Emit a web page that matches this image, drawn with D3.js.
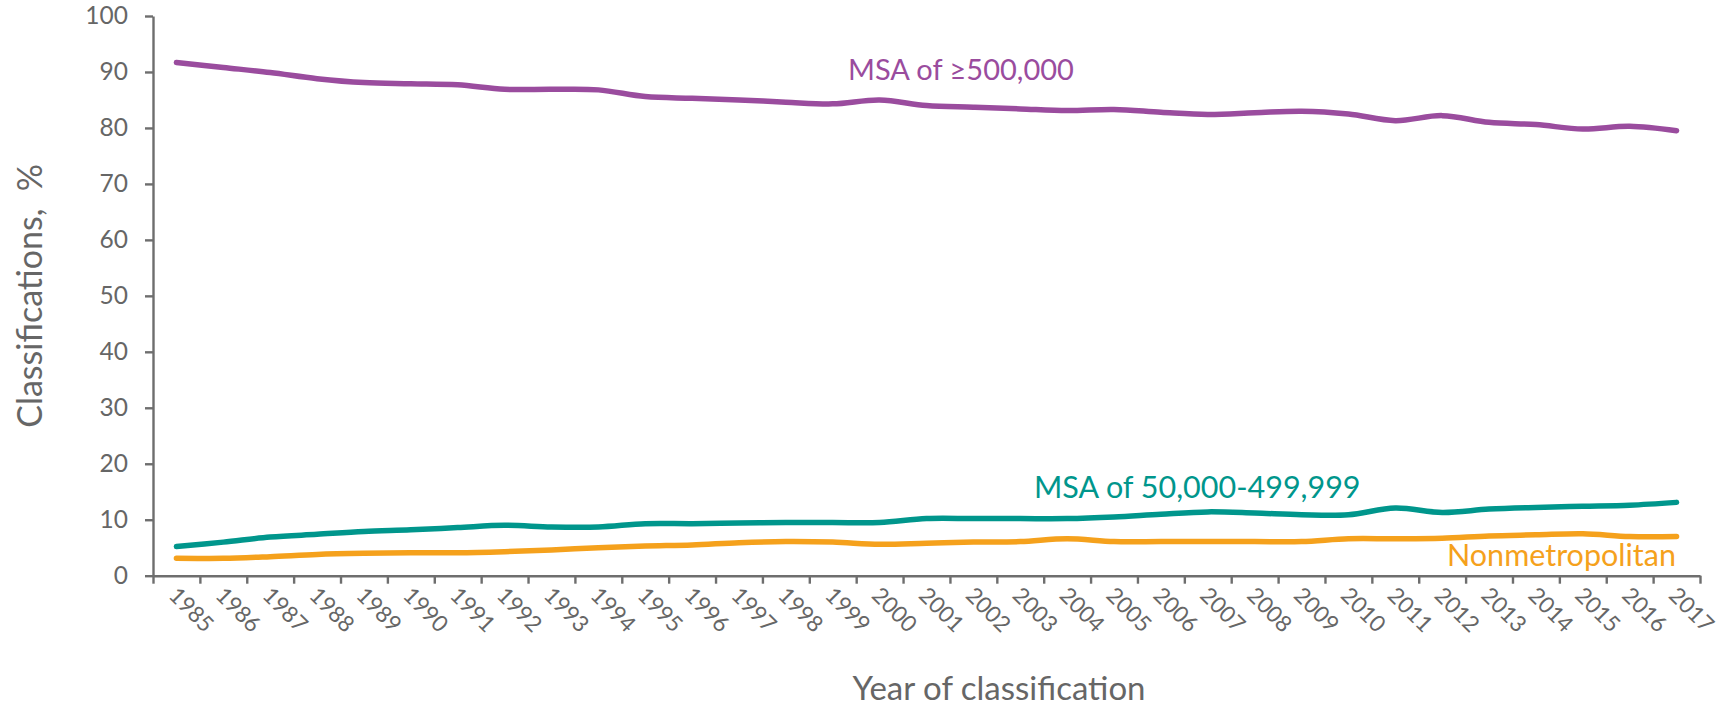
<!DOCTYPE html>
<html>
<head>
<meta charset="utf-8">
<script src="https://cdn.jsdelivr.net/npm/d3@7"></script>
<style>
  html, body { margin: 0; padding: 0; background: #fff; }
  svg { display: block; font-family: Lato, "Open Sans", sans-serif; }
</style>
</head>
<body>
<svg id="chart" width="1731" height="710"></svg>
<script>
// ---- Data ----
const years = ["1985","1986","1987","1988","1989","1990","1991","1992","1993","1994","1995","1996","1997","1998","1999","2000","2001","2002","2003","2004","2005","2006","2007","2008","2009","2010","2011","2012","2013","2014","2015","2016","2017"];
const msaLarge = [91.7, 90.8, 89.9, 88.8, 88.1, 87.9, 87.7, 86.9, 86.9, 86.8, 85.6, 85.3, 85.0, 84.6, 84.3, 85.0, 84.0, 83.7, 83.4, 83.1, 83.3, 82.8, 82.4, 82.7, 83.0, 82.5, 81.3, 82.2, 81.0, 80.6, 79.8, 80.3, 79.5];
const msaMid = [5.2, 6.0, 6.9, 7.4, 7.9, 8.2, 8.6, 9.0, 8.7, 8.7, 9.3, 9.3, 9.4, 9.5, 9.5, 9.5, 10.2, 10.2, 10.2, 10.2, 10.5, 11.0, 11.4, 11.2, 10.9, 10.9, 12.1, 11.3, 11.9, 12.2, 12.4, 12.6, 13.1];
const nonMetro = [3.1, 3.1, 3.4, 3.8, 4.0, 4.1, 4.1, 4.3, 4.6, 5.0, 5.3, 5.5, 5.9, 6.1, 6.0, 5.6, 5.8, 6.0, 6.1, 6.6, 6.1, 6.1, 6.1, 6.1, 6.1, 6.6, 6.6, 6.7, 7.1, 7.3, 7.5, 7.0, 7.0];
const seriesNames = ["MSA of \u2265500,000", "MSA of 50,000-499,999", "Nonmetropolitan"];
const yTicks = [0, 10, 20, 30, 40, 50, 60, 70, 80, 90, 100];
const xTitle = "Year of classification";
const yTitle = "Classifications,  %";

// ---- Styles / layout ----
const colors = ["#9A4C9E", "#00968C", "#F5A11C"];
const labelPos = [[848, 80], [1034, 498], [1447, 566]];
const labelSize = [29, 30.5, 30.5];
const axisColor = "#6E6E6E";
const textColor = "#666666";

const svg = d3.select("#chart");
const mLeft = 153, mRight = 1700, mTop = 16, mBottom = 575.7;

const x = d3.scaleBand().domain(years).range([mLeft, mRight]).padding(0);
const y = d3.scaleLinear().domain([0, 100]).range([mBottom, mTop]);

// Y axis
const gy = svg.append("g").attr("transform", `translate(${mLeft},0)`)
  .call(d3.axisLeft(y).tickValues(yTicks).tickSize(8).tickSizeOuter(0).tickPadding(17));
gy.select(".domain").attr("stroke", axisColor).attr("stroke-width", 2.4);
gy.selectAll(".tick line").attr("stroke", axisColor).attr("stroke-width", 2.4);
gy.selectAll(".tick text").attr("fill", textColor).style("font-size", "24.5px").style("font-family", "Lato");

// X axis: ticks at band boundaries
const xb = d3.scaleLinear().domain([0, years.length]).range([mLeft, mRight]);
const gx = svg.append("g").attr("transform", `translate(0,${mBottom})`)
  .call(d3.axisBottom(xb).tickValues(d3.range(years.length + 1)).tickSize(8).tickSizeOuter(0).tickFormat(""));
gx.select(".domain").attr("stroke", axisColor).attr("stroke-width", 2.4);
gx.selectAll(".tick line").attr("stroke", axisColor).attr("stroke-width", 2.4);

// X tick labels (rotated)
svg.append("g").selectAll("text").data(years).join("text")
  .attr("transform", d => `translate(${x(d) + x.bandwidth() / 2 - 9},${mBottom + 21}) rotate(45)`)
  .attr("text-anchor", "start")
  .attr("fill", textColor)
  .style("font-size", "22.5px")
  .text(d => d);

// Lines
const line = d3.line()
  .x((d, i) => x(years[i]) + x.bandwidth() / 2)
  .y(d => y(d))
  .curve(d3.curveCardinal.tension(0));

[msaLarge, msaMid, nonMetro].forEach((vals, k) => {
  svg.append("path")
    .datum(vals)
    .attr("fill", "none")
    .attr("stroke", colors[k])
    .attr("stroke-width", 5.5)
    .attr("stroke-linecap", "round")
    .attr("stroke-linejoin", "round")
    .attr("d", line);
});

// Series labels
seriesNames.forEach((name, k) => {
  svg.append("text")
    .attr("x", labelPos[k][0]).attr("y", labelPos[k][1])
    .attr("fill", colors[k])
    .style("font-size", labelSize[k] + "px")
    .text(name);
});

// Axis titles
svg.append("text")
  .attr("x", 999).attr("y", 700)
  .attr("text-anchor", "middle")
  .attr("fill", textColor)
  .style("font-size", "33px")
  .text(xTitle);

svg.append("text")
  .attr("transform", `translate(42,${(mTop + mBottom) / 2}) rotate(-90)`)
  .attr("text-anchor", "middle")
  .attr("fill", textColor)
  .style("font-size", "34px")
  .style("white-space", "pre")
  .text(yTitle);
</script>
</body>
</html>
